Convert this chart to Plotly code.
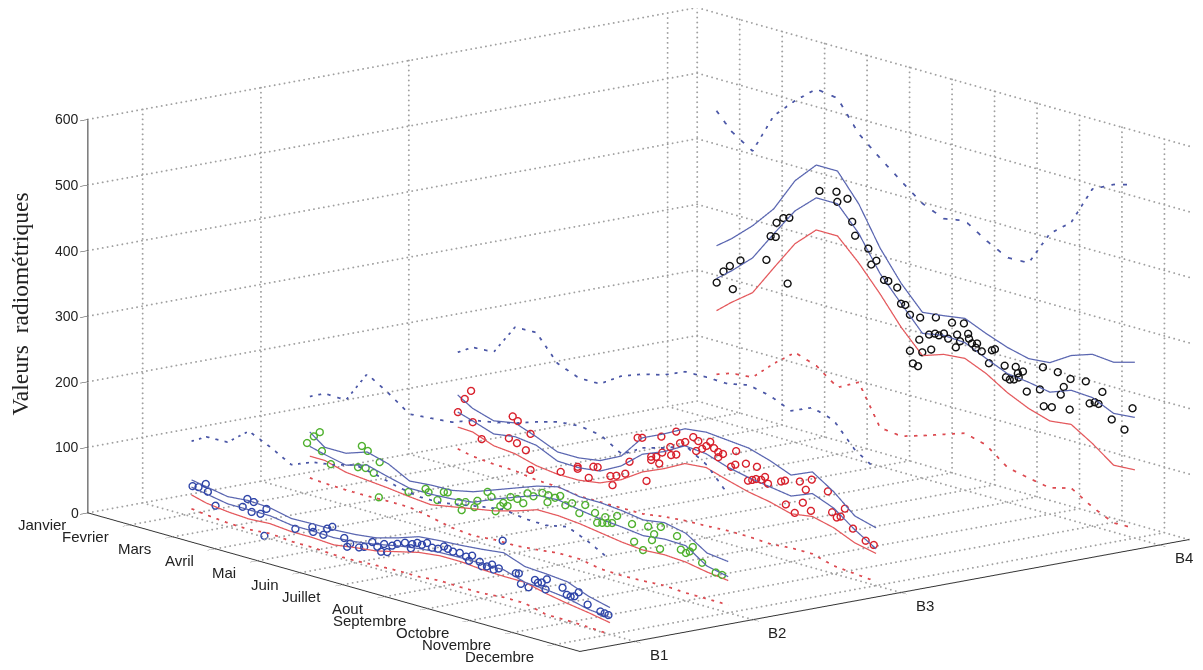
import numpy as np
import plotly.graph_objects as go

MONTH_LABELS = ["Janvier","Fevrier","Mars","Avril","Mai","Juin","Juillet","Aout","Septembre","Octobre","Novembre","Decembre"]
MONTH_TICKS = [1,2,3,4,5,6,7,8,9,10,11,12]
BAND_LABELS = ["B1","B2","B3","B4"]
BAND_TICKS = [0.48,0.56,0.66,0.835]
Z_TICKS = [0,100,200,300,400,500,600]
MONTH_RANGE = [1,12.58]
BAND_RANGE = [0.443,0.855]
Z_RANGE = [0,600]

M = [2.15,2.5,3,3.5,4,4.5,5,5.5,6,6.5,7,7.5,8,8.5,9,9.5,10,10.5,11,11.5,12]

# B4
B4_UP = [266,283,312,347,399,432,432,391,333,288,253,257,262,248,236,228,231,251,262,259,268]
B4_LO = [216,234,263,309,353,382,382,346,294,257,221,227,225,210,196,192,186,198,196,181,184]
B4_RED = [167,186,210,257,303,333,333,301,263,221,187,198,201,187,167,152,142,146,126,102,104]
B4_BDASH = [472,447,426,489,521,548,543,498,470,444,419,405,411,390,373,374,428,454,514,530,539]
B4_RDASH = [70,78,81,111,137,126,102,119,59,55,65,76,87,78,53,46,40,49,29,14,15]
B4_PM = [2.15,2.31,2.46,2.53,2.71,3.32,3.42,3.54,3.56,3.72,3.86,3.82,4.57,4.97,4.99,5.23,5.34,5.41,5.72,5.91,5.79,6.09,6.19,6.40,6.49,6.59,6.70,6.94,7.31,6.92,7.15,7.29,7.38,7.50,7.69,7.97,7.60,7.81,8.07,6.70,6.99,7.20,6.77,6.89,7.78,7.88,8.09,8.16,8.28,8.25,8.39,8.56,8.63,8.70,8.93,9.19,9.36,9.24,8.96,9.05,9.15,9.26,9.45,9.76,9.83,9.85,10.04,10.18,10.32,10.25,10.48,10.46,10.84,10.93,11.05,11.14,11.23,11.45,11.75,11.94]
B4_PV = [210,230,241,207,254,266,304,305,327,337,340,239,394,400,385,394,361,341,327,312,304,286,286,280,257,257,244,244,251,210,222,226,225,230,250,254,224,234,240,189,192,200,171,169,214,225,233,227,229,222,219,204,225,228,207,210,206,201,190,188,190,195,177,186,221,162,164,220,200,187,215,168,218,186,190,189,209,171,161,197]

# B3
B3_UP = [111,97,87,93,81,67,67,72,88,125,140,157,161,158,155,145,132,146,125,97,88]
B3_LO = [85,78,67,72,68,53,52,56,73,100,113,131,128,117,110,105,100,113,100,76,56]
B3_RED = [62,61,49,46,37,33,33,38,52,73,87,104,107,97,88,82,73,78,70,56,49]
B3_BDASH = [176,190,192,239,240,202,189,189,210,222,230,244,245,244,251,244,230,244,234,198,177]
B3_RDASH = [29,24,21,20,15,14,9,9,9,9,14,17,18,20,20,18,21,21,12,9,6]
B3_PM = [2.46,2.31,2.15,2.50,2.71,3.44,3.56,3.35,3.54,3.75,3.86,3.86,4.57,4.97,4.97,5.23,5.34,5.44,5.74,5.88,6.09,5.79,6.19,6.59,6.38,6.49,6.94,6.70,6.82,6.96,6.70,6.89,7.15,7.17,7.29,7.29,7.38,7.50,7.69,7.81,8.09,8.00,7.90,7.76,8.18,8.28,8.39,8.28,8.70,8.58,8.68,8.93,9.19,8.98,9.08,9.17,9.29,9.38,9.45,9.76,9.85,10.20,10.48,10.34,9.87,10.08,10.27,10.46,10.86,10.96,11.07,11.16,11.26,11.45,11.75,11.94]
B3_PV = [123,108,85,76,54,102,97,67,63,56,83,28,38,53,50,41,60,61,53,56,63,40,83,61,123,125,135,100,102,111,95,93,123,111,114,149,133,137,148,144,148,140,134,128,140,136,135,128,145,119,124,130,130,105,108,111,112,118,109,118,121,126,134,116,85,76,95,86,123,93,87,90,104,77,64,61]

# B2
B2_UP = [96,79,79,90,81,64,67,68,75,87,99,111,119,113,113,110,105,110,103,82,78]
B2_LO = [74,68,61,70,61,53,53,55,59,73,85,97,99,93,88,85,81,85,84,62,55]
B2_RED = [59,59,50,47,44,40,37,43,49,55,64,75,75,72,67,62,59,61,59,53,49]
B2_BDASH = [150,161,160,209,189,166,169,172,184,190,198,209,218,221,216,196,215,224,236,216,180]
B2_RDASH = [26,24,23,23,24,24,18,11,8,11,11,14,18,18,12,11,12,14,12,12,12]
B2_PM = [2.38,2.24,2.08,2.43,2.64,3.37,3.51,3.79,3.28,3.46,3.65,3.77,4.47,4.87,4.94,5.30,5.39,5.15,5.65,5.81,6.09,6.33,6.42,5.72,6.02,6.52,6.63,6.70,6.80,6.87,7.03,7.17,7.27,7.41,7.62,7.76,7.74,7.92,8.04,8.16,8.32,8.49,8.63,8.86,8.91,9.10,9.03,9.15,9.26,9.38,9.73,10.11,10.41,10.25,10.20,9.78,9.99,10.39,10.79,11.16,10.88,11.00,11.09,11.38,11.70,11.85]
B2_PV = [100,91,78,72,56,97,92,80,63,65,61,26,47,59,55,62,63,47,53,56,63,81,75,42,52,55,65,71,68,83,83,79,96,94,103,102,91,101,106,94,100,88,103,95,81,93,83,85,87,100,94,97,102,88,78,68,59,68,95,85,76,73,77,65,56,55]

# B1
B1_UP = [56,52,46,49,47,40,41,41,43,47,56,67,70,72,75,79,67,65,62,49,41]
B1_LO = [45,41,35,35,35,30,30,29,32,37,44,49,52,53,53,53,43,41,37,29,26]
B1_RED = [33,27,23,21,23,20,20,18,23,27,35,43,47,47,44,43,43,35,29,24,18]
B1_BDASH = [115,128,129,155,140,122,135,140,149,143,134,128,128,134,140,145,140,139,146,132,114]
B1_RDASH = [12,9,6,5,8,5,5,3,3,5,6,6,9,8,8,11,11,3,3,2,0]
B1_PM = [2.17,2.31,2.48,2.53,2.71,3.46,3.61,3.35,3.56,3.77,3.91,3.86,4.59,4.99,5.01,5.25,5.34,5.46,5.74,5.88,5.81,6.09,6.21,6.40,6.52,6.61,6.75,6.68,6.87,6.99,7.17,7.31,7.34,7.46,7.57,7.69,7.81,7.95,8.09,8.18,8.30,8.46,8.61,8.75,8.68,8.93,8.98,9.10,9.22,9.26,9.38,9.47,9.78,9.85,9.90,10.08,10.23,10.30,10.39,10.51,10.48,10.88,10.98,11.07,11.16,11.26,11.47,11.77,11.87,11.96]
B1_PV = [47,48,56,45,27,51,49,37,33,34,44,2,26,36,29,29,40,45,33,27,21,25,28,39,34,28,30,41,42,47,52,46,53,57,56,61,56,57,63,61,59,60,57,61,52,55,49,51,56,49,53,97,53,54,39,37,51,48,50,57,41,51,42,41,43,51,36,31,30,29]

BLUE_LINE = "#5a66b0"
BLUE_DASH = "#4a56a6"
RED_LINE = "#e4585c"
RED_DASH = "#dc4a50"
GRID = "#a0a0a0"
AXIS = "#333333"

fig = go.Figure()

def curve(xs, ys, zs, color, dash, width=2.5):
    fig.add_trace(go.Scatter3d(x=xs, y=ys, z=zs, mode="lines",
                               line=dict(color=color, width=width, dash=dash),
                               hoverinfo="skip", showlegend=False))

# dotted grid on the two back walls and the floor, as rows of small dots
gx, gy, gz = [], [], []
def dots(a, b, n):
    gx.extend(np.linspace(a[0], b[0], n))
    gy.extend(np.linspace(a[1], b[1], n))
    gz.extend(np.linspace(a[2], b[2], n))
BMIN, BMAX = BAND_RANGE
MMIN, MMAX = MONTH_RANGE
for b in BAND_TICKS:
    dots((1,b,0),(1,b,600),80)
    dots((MMIN,b,0),(MMAX,b,0),100)
for m in MONTH_TICKS:
    dots((m,BMAX,0),(m,BMAX,600),80)
    dots((m,BMIN,0),(m,BMAX,0),125)
for z in Z_TICKS:
    dots((1,BMIN,z),(1,BMAX,z),125)
    dots((MMIN,BMAX,z),(MMAX,BMAX,z),100)
fig.add_trace(go.Scatter3d(x=gx,y=gy,z=gz,mode="markers",
                           marker=dict(symbol="circle",size=1.1,color=GRID,line=dict(width=0)),
                           hoverinfo="skip",showlegend=False))

bands = [
    (BAND_TICKS[0],B1_UP,B1_LO,B1_RED,B1_BDASH,B1_RDASH,B1_PM,B1_PV,"#2f45a8"),
    (BAND_TICKS[1],B2_UP,B2_LO,B2_RED,B2_BDASH,B2_RDASH,B2_PM,B2_PV,"#4fb02e"),
    (BAND_TICKS[2],B3_UP,B3_LO,B3_RED,B3_BDASH,B3_RDASH,B3_PM,B3_PV,"#d8202c"),
    (BAND_TICKS[3],B4_UP,B4_LO,B4_RED,B4_BDASH,B4_RDASH,B4_PM,B4_PV,"#111111"),
]
for b,up,lo,red,bd,rd,pm,pv,col in bands:
    n = len(M)
    curve(M,[b]*n,up,BLUE_LINE,"solid")
    curve(M,[b]*n,lo,BLUE_LINE,"solid")
    curve(M,[b]*n,red,RED_LINE,"solid")
    curve(M,[b]*n,bd,BLUE_DASH,"dash",3.5)
    curve(M,[b]*n,rd,RED_DASH,"dash",3.5)
    for sz in (4.7,4.3,3.9):
        fig.add_trace(go.Scatter3d(x=pm,y=[b]*len(pm),z=pv,mode="markers",
                                   marker=dict(symbol="circle-open",size=sz,color=col),
                                   hoverinfo="skip",showlegend=False))

FONT = dict(family="Liberation Sans", size=15, color="#222222")
ZFONT = dict(family="Liberation Sans", size=14, color="#222222")
ann = []
for m,l in zip(MONTH_TICKS,MONTH_LABELS):
    ann.append(dict(x=m,y=BAND_RANGE[0],z=0,text=l,showarrow=False,xanchor="right",yanchor="middle",xshift=-19,yshift=-12,font=FONT))
for b,l in zip(BAND_TICKS,BAND_LABELS):
    ann.append(dict(x=MONTH_RANGE[1],y=b,z=0,text=l,showarrow=False,xanchor="center",yanchor="middle",xshift=25,yshift=-13,font=FONT))
for z in Z_TICKS:
    ann.append(dict(x=1,y=BAND_RANGE[0],z=z,text=str(z),showarrow=False,xanchor="right",yanchor="middle",xshift=-6,font=ZFONT))

def axis(rng, vals, ticks="outside"):
    return dict(range=rng, tickvals=vals, showticklabels=False, title=dict(text=""),
                showgrid=False, zeroline=False, showbackground=False, showspikes=False,
                showline=True, linecolor=AXIS, linewidth=2, ticks=ticks, ticklen=10, tickcolor=AXIS, tickwidth=1)

K = 2.38
CZ = -0.0234
fig.update_layout(
    width=1203, height=670, margin=dict(l=0,r=0,t=0,b=0), paper_bgcolor="white",
    showlegend=False,
    scene=dict(
        domain=dict(x=[0.05445,0.99295],y=[0.018,1]),
        xaxis=axis(MONTH_RANGE,MONTH_TICKS),
        yaxis=axis(BAND_RANGE,BAND_TICKS),
        zaxis=axis(Z_RANGE,Z_TICKS,"inside"),
        aspectmode="manual", aspectratio=dict(x=K,y=K,z=0.516*K),
        camera=dict(projection=dict(type="orthographic"),
                    center=dict(x=0,y=0,z=CZ), up=dict(x=0,y=0,z=1),
                    eye=dict(x=0.758*2,y=-0.612*2,z=0.2275*2+CZ)),
        annotations=ann,
    ),
    annotations=[dict(xref="paper",yref="paper",x=11.5/1203,y=1-296/670,text="Valeurs  radiométriques",textangle=-90,
                      xanchor="center",yanchor="middle",
                      showarrow=False,font=dict(family="Liberation Serif",size=23.5,color="#222222"))],
)
fig.write_html("out.html")
